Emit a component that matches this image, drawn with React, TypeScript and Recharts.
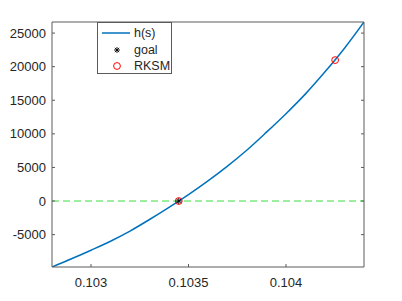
import React from "react";
import {
  ComposedChart,
  Line,
  Scatter,
  XAxis,
  YAxis,
  ReferenceLine,
  Legend,
} from "recharts";

// h(s) curve samples
const sValues = [
  0.1028, 0.1029, 0.103, 0.1031, 0.1032, 0.1033, 0.1034, 0.1035, 0.1036,
  0.1037, 0.1038, 0.1039, 0.104, 0.1041, 0.1042, 0.1043, 0.1044,
];
const hValues = [
  -9820, -8600, -7320, -5980, -4470, -2750, -940, 960, 3000, 5200, 7600,
  10250, 13000, 15950, 19230, 22750, 26650,
];

const goalS = [0.10345];
const goalH = [0];
const rksmS = [0.10345, 0.104252];
const rksmH = [0, 20980];

const xTicks = [0.103, 0.1035, 0.104];
const yTicks = [-5000, 0, 5000, 10000, 15000, 20000, 25000];
const xDomain = [0.1028, 0.1044];
const yDomain = [-9820, 26650];

const legendLabels = ["h(s)", "goal", "RKSM"];

const curveData = sValues.map((s, i) => ({ s, h: hValues[i] }));
const goalData = goalS.map((s, i) => ({ s, h: goalH[i] }));
const rksmData = rksmS.map((s, i) => ({ s, h: rksmH[i] }));

const BLUE = "#0072BD";
const AXIS = "#5a5a5a";
const TEXT = "#262626";
const FONT = "'Liberation Sans', Arial, Helvetica, sans-serif";

const Asterisk = ({ cx, cy, size = 3 }: any) => {
  if (cx == null || cy == null) return null;
  const d = size * 0.72;
  return (
    <g stroke="#000" strokeWidth={0.9}>
      <line x1={cx - size} y1={cy} x2={cx + size} y2={cy} />
      <line x1={cx} y1={cy - size} x2={cx} y2={cy + size} />
      <line x1={cx - d} y1={cy - d} x2={cx + d} y2={cy + d} />
      <line x1={cx - d} y1={cy + d} x2={cx + d} y2={cy - d} />
    </g>
  );
};

const Circle = ({ cx, cy }: any) => {
  if (cx == null || cy == null) return null;
  return <circle cx={cx} cy={cy} r={3.4} fill="none" stroke="#ff0000" strokeWidth={1} />;
};

const LegendBox = () => (
  <div
    style={{
      width: 75,
      height: 52,
      boxSizing: "border-box",
      border: `1px solid ${AXIS}`,
      background: "#fff",
    }}
  >
    <svg width={73} height={50} style={{ display: "block" }}>
      <line x1={4} y1={10} x2={32} y2={10} stroke={BLUE} strokeWidth={1.5} />
      <Asterisk cx={19} cy={27} size={3} />
      <Circle cx={19} cy={43} />
      {legendLabels.map((t, i) => (
        <text
          key={t}
          x={36}
          y={[10, 27, 43][i]}
          dominantBaseline="central"
          fontSize={12.5}
          fontFamily={FONT}
          fill={TEXT}
        >
          {t}
        </text>
      ))}
    </svg>
  </div>
);

const tickStyle = { fontSize: 13, fontFamily: FONT, fill: TEXT };
const empty = () => "";

export default function App() {
  return (
    <div style={{ position: "absolute", left: 0, top: 0, background: "#fff" }}>
      <ComposedChart
        width={402}
        height={301}
        margin={{ top: 21, right: 37, bottom: 0, left: 0 }}
      >
        <XAxis
          xAxisId={0}
          dataKey="s"
          type="number"
          domain={xDomain}
          ticks={xTicks}
          allowDataOverflow
          height={34}
          tickSize={-3}
          tickMargin={14}
          tick={tickStyle}
          stroke={AXIS}
          tickFormatter={(v: number) => String(v)}
        />
        <XAxis
          xAxisId="top"
          orientation="top"
          type="number"
          domain={xDomain}
          ticks={xTicks}
          allowDataOverflow
          height={1}
          tickSize={-3}
          stroke={AXIS}
          tickFormatter={empty}
        />
        <YAxis
          yAxisId={0}
          type="number"
          domain={yDomain}
          ticks={yTicks}
          allowDataOverflow
          width={52}
          tickSize={-3}
          tickMargin={9}
          tick={tickStyle}
          stroke={AXIS}
          tickFormatter={(v: number) => String(v)}
        />
        <YAxis
          yAxisId="right"
          orientation="right"
          type="number"
          domain={yDomain}
          ticks={yTicks}
          allowDataOverflow
          width={1}
          tickSize={-3}
          stroke={AXIS}
          tickFormatter={empty}
        />
        <Line
          data={curveData}
          dataKey="h"
          type="monotone"
          dot={false}
          activeDot={false}
          stroke={BLUE}
          strokeWidth={1.5}
          isAnimationActive={false}
        />
        <ReferenceLine
          y={0}
          stroke="#3ddc3d"
          strokeWidth={1}
          strokeDasharray="7 4"
        />
        <Scatter
          data={goalData}
          dataKey="h"
          shape={(p: any) => <Asterisk cx={p.cx} cy={p.cy} size={3} />}
          isAnimationActive={false}
        />
        <Scatter
          data={rksmData}
          dataKey="h"
          shape={(p: any) => <Circle cx={p.cx} cy={p.cy} />}
          isAnimationActive={false}
        />
        <Legend
          layout="vertical"
          align="center"
          verticalAlign="middle"
          content={() => <LegendBox />}
          wrapperStyle={{ position: "absolute", left: 97, top: 22, width: 75, height: 52 }}
        />
      </ComposedChart>
    </div>
  );
}
